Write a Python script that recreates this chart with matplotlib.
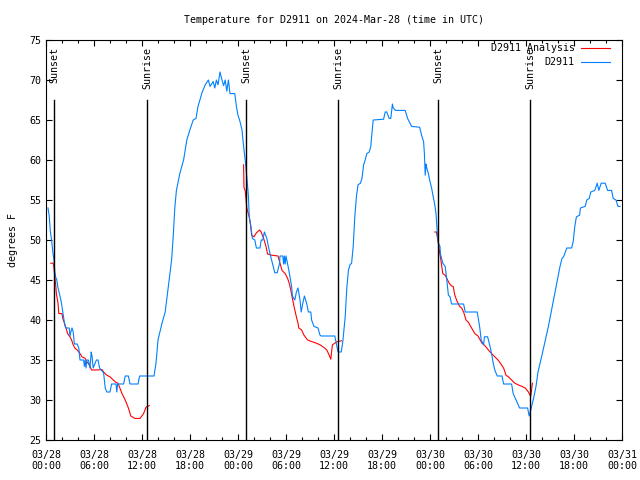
import numpy as np
import pandas as pd
import matplotlib
matplotlib.use('Agg')
import matplotlib.pyplot as plt
import matplotlib.dates as mdates

plt.rcParams['font.family'] = ['DejaVu Sans Mono']
plt.rcParams['font.size'] = 7.2

start = pd.Timestamp('2024-03-28 00:00')

# observed D2911 (hours after 03/28 00:00 UTC, deg F)
obs_hours = [0.25, 0.4, 0.55, 0.7, 0.85, 1.0, 1.1, 1.2, 1.35, 1.5, 1.75, 1.95, 2.1, 2.25, 2.4, 2.5, 2.9, 3.0, 3.1,
             3.25, 3.4, 3.55, 3.9, 4.1, 4.25, 4.7, 4.8, 4.9, 5.0, 5.1, 5.3, 5.5, 5.65, 5.75, 5.9, 6.1, 6.3, 6.5, 6.7,
             7.2, 7.4, 7.6, 8.0, 8.2, 8.75, 8.85, 8.95, 9.7, 9.9, 10.3, 10.5, 11.5, 11.7, 13.5, 13.75, 14.0, 14.5,
             14.9, 15.3, 15.7, 15.9, 16.1, 16.3, 16.75, 17.2, 17.6, 18.0, 18.4, 18.75, 19.0, 19.5, 19.9, 20.3, 20.5,
             20.9, 21.1, 21.3, 21.5, 21.75, 22.0, 22.2, 22.4, 22.6, 22.8, 23.0, 23.6, 23.8, 24.0, 24.25, 24.5, 24.7,
             24.9, 25.1, 25.3, 25.4, 25.6, 25.8, 26.1, 26.3, 26.75, 26.9, 27.1, 27.3, 27.6, 27.8, 28.0, 28.2, 28.4,
             28.6, 28.9, 29.2, 29.25, 29.6, 29.7, 29.8, 29.9, 30.0, 30.3, 30.5, 30.7, 30.8, 31.1, 31.3, 31.5, 31.75,
             31.9, 32.1, 32.3, 32.6, 32.8, 33.1, 33.2, 33.5, 34.0, 34.25, 34.4, 36.1, 36.3, 36.5, 36.9, 37.1, 37.4,
             37.6, 37.8, 38.0, 38.2, 38.4, 38.6, 38.8, 39.0, 39.3, 39.5, 39.7, 39.9, 40.1, 40.4, 40.6, 40.7, 40.9,
             42.2, 42.4, 42.6, 42.9, 43.1, 43.3, 43.4, 43.7, 44.9, 45.2, 45.4, 45.7, 46.7, 47.0, 47.2, 47.3, 47.4,
             47.5, 47.6, 47.8, 48.0, 48.2, 48.4, 48.6, 48.75, 48.9, 49.05, 49.25, 49.3, 49.6, 49.9, 50.1, 50.3, 50.5,
             50.7, 52.2, 52.4, 53.9, 54.2, 54.4, 54.7, 54.8, 55.2, 55.5, 55.7, 55.9, 56.1, 56.4, 57.0, 57.2, 58.2,
             58.4, 58.75, 59.2, 60.2, 60.4, 60.6, 60.9, 61.25, 61.5, 61.95, 62.4, 62.8, 63.2, 63.6, 64.0, 64.25,
             64.5, 64.7, 65.1, 65.7, 65.9, 66.1, 66.3, 66.7, 66.8, 67.4, 67.6, 67.9, 68.1, 68.6, 68.9, 69.1, 69.4,
             69.9, 70.2, 70.7, 70.9, 71.25, 71.5, 71.75]
obs_temps = [54, 53, 51, 50, 48.5, 47.5, 46, 45.4, 45, 44, 43, 42, 41, 40, 39.2, 39, 39, 38, 38.5,
             39, 38.5, 37, 37, 36.5, 35, 35, 34.2, 35, 34, 35, 35, 34, 36, 35.5, 34, 34.5, 35, 35, 34,
             33.4, 31.5, 31, 31, 32, 32, 31, 32, 32, 33, 33, 32, 32, 33, 33, 34.6, 37.5, 39.6,
             41, 44.2, 47.5, 50.4, 54, 56.2, 58.4, 60, 62.5, 63.8, 65, 65.2, 66.7, 68.4, 69.4, 70, 69.2,
             69.8, 69, 70, 69.4, 71, 70, 69.3, 70, 68.6, 70, 68.3, 68.3, 66.7, 65.6, 64.8, 63.75, 61.7,
             60, 57.9, 55.5, 53, 51.7, 50.2, 50, 49, 49, 50, 50, 51, 50.2, 49.2, 48.3, 47.5, 46.7,
             45.9, 45.9, 47.1, 48, 48, 47, 48, 47, 48, 46.5, 45.4, 44.2, 43, 42.5, 43.5, 44, 42.5,
             41, 42.1, 43, 42, 41, 41, 40, 39.2, 39, 38.1, 38, 38, 37, 36, 36, 37.3, 40.4,
             44, 46.2, 46.9, 47.1, 49.2, 52.9, 55.4, 56.9, 57.1, 57.7, 59.4, 60, 60.8, 61, 61.7, 62.9, 65,
             65.1, 66, 66, 65.2, 65.2, 67, 66.5, 66.2, 66.2, 65.2, 64.8, 64.2, 64.1, 62.9, 62.3, 60.8, 58.1,
             59.5, 59, 58.3, 57.3, 56.5, 55.4, 54.4, 53.3, 51, 49.6, 49.2, 48.3, 47.1, 46.7, 45, 43.1, 42.9,
             42, 42, 41, 41, 39.2, 37.5, 36.9, 37.9, 37.9, 36.7, 35.8, 34.6, 33.75, 33, 33, 32, 32,
             30.8, 30, 29, 29, 28, 28.75, 30, 31.7, 33.5, 35.4, 37.4, 39.2, 41.25, 43.3, 45.4, 46.7,
             47.7, 47.9, 49, 49, 49.8, 51.7, 52.9, 53.1, 54, 54.2, 55, 55.2, 56, 56.2, 57.1, 56.2, 57.1,
             57.1, 56.2, 56.2, 55.2, 55, 54.2, 54.2]

# D2911 analysis (three overnight windows, gaps as nan)
ana_hours = [0.6, 0.9, 1.0, 1.1, 1.2, 1.3, 1.5, 1.6, 2.0, 2.1, 2.3, 2.5, 2.7, 3.0, 3.2, 3.4, 3.6, 3.9, 4.25, 4.5,
             4.9, 5.1, 5.4, 5.7, 6.25, 7.0, 7.2, 7.6, 8.0, 8.4, 8.75, 9.0, 9.5, 9.9, 10.3, 10.6, 11.1, 11.75, 12.2,
             12.5, 12.9, 13.0,
             24.7, 24.75, 24.9, 25.1, 25.4, 25.6, 25.7, 26.0, 26.3, 26.7, 26.9, 27.2, 27.5, 27.7, 28.2, 29.0,
             29.25, 29.5, 29.9, 30.2, 30.4, 30.6, 30.8, 31.0, 31.25, 31.5, 31.6, 31.95, 32.25, 32.7, 33.2, 33.8,
             34.25, 34.7, 35.1, 35.4, 35.6, 35.8, 36.1, 36.4, 36.95, 37.0,
             48.6, 48.8, 49.05, 49.2, 49.3, 49.6, 49.9, 50.1, 50.4, 50.7, 50.9, 51.1, 51.4, 51.7, 51.95, 52.2,
             52.5, 52.8, 53.2, 53.6, 54.0, 54.5, 54.9, 55.3, 55.7, 56.1, 56.5, 56.8, 57.2, 57.5, 57.8, 58.2, 58.6,
             59.0, 59.5, 59.9, 60.3, 60.5, 60.6, 60.8]
ana_temps = [47.1, 47.1, 46.5, 45.4, 44.5, 43.3, 42.1, 40.8, 40.8, 40.2, 39.6, 39, 38.3, 37.9, 37.5, 36.9, 36.5,
             36.25, 35.8, 35.4, 35.2, 34.8, 34.4, 33.75, 33.75, 33.8, 33.5, 33.1, 32.9, 32.5, 32.2, 32.1, 30.8, 30,
             29, 28, 27.7, 27.7, 28.3, 29.1, 29.3, np.nan,
             59.4, 56.5, 56.2, 54, 52.9, 51.7, 50.6, 50.4, 50.9, 51.25, 51, 50.2, 49.2, 48.25, 48.1, 48,
             47.1, 46.2, 45.8, 45.2, 44.6, 43.75, 42.7, 41.7, 40.6, 39.6, 39, 38.75, 38.1, 37.5, 37.3, 37.1,
             36.9, 36.6, 36.25, 35.6, 35.1, 36.9, 37.1, 37.3, 37.4, np.nan,
             51, 51, 49.6, 48.5, 47.9, 45.8, 45.6, 45.2, 44.6, 44.25, 44.2, 43.1, 42.3, 41.7, 41.5, 41,
             40, 39.7, 39, 38.3, 38, 37.1, 36.75, 36.25, 35.8, 35.4, 35, 34.6, 34, 33.1, 32.9, 32.5, 32.1,
             31.9, 31.7, 31.5, 31.0, 30.6, 30.5, 32.1]

sun_hours = [1.03, 12.67, 25.02, 36.55, 49.03, 60.55]
sun_names = ['Sunset', 'Sunrise', 'Sunset', 'Sunrise', 'Sunset', 'Sunrise']

obs_t = start + pd.to_timedelta(obs_hours, unit='h')
ana_t = start + pd.to_timedelta(ana_hours, unit='h')
sun_t = start + pd.to_timedelta(sun_hours, unit='h')

fig = plt.figure(figsize=(6.4, 4.8), dpi=100)
ax = fig.add_axes([46 / 640, 40 / 480, 576 / 640, 400 / 480])

ax.plot(ana_t, ana_temps, color='#ff0000', lw=0.8)
ax.plot(obs_t, obs_temps, color='#0080ff', lw=0.8)

for t, name in zip(sun_t, sun_names):
    ax.plot([t, t], [25, 67.5], color='black', lw=1.0)
    ax.text(t, 74.1, name, rotation=90, ha='center', va='top')

ax.set_xlim(start, start + pd.Timedelta(hours=72))
ax.set_ylim(25, 75)
ax.set_yticks(np.arange(25, 76, 5))

ax.xaxis.set_major_locator(mdates.HourLocator(byhour=[0, 6, 12, 18]))
ax.xaxis.set_minor_locator(mdates.HourLocator(byhour=range(0, 24, 2)))
ax.xaxis.set_major_formatter(mdates.DateFormatter('%m/%d\n%H:%M'))

ax.tick_params(which='both', direction='in', top=True, right=True, labelsize=7.2)
ax.tick_params(which='major', length=4, width=0.8)
ax.tick_params(axis='x', which='major', pad=7)
ax.tick_params(which='minor', length=2.2, width=0.8)
for s in ax.spines.values():
    s.set_linewidth(0.8)

ax.set_ylabel('degrees F', labelpad=8)
ax.set_title('Temperature for D2911 on 2024-Mar-28 (time in UTC)', fontsize=7.2, pad=12)

# legend drawn gnuplot-style: text then line sample
for i, (lab, col) in enumerate([('D2911 Analysis', '#ff0000'), ('D2911', '#0080ff')]):
    yy = 0.979 - i * 0.035
    ax.text(0.918, yy, lab, transform=ax.transAxes, ha='right', va='center')
    ax.plot([0.929, 0.979], [yy, yy], transform=ax.transAxes, color=col, lw=0.8)

fig.savefig('out.png', dpi=100)
